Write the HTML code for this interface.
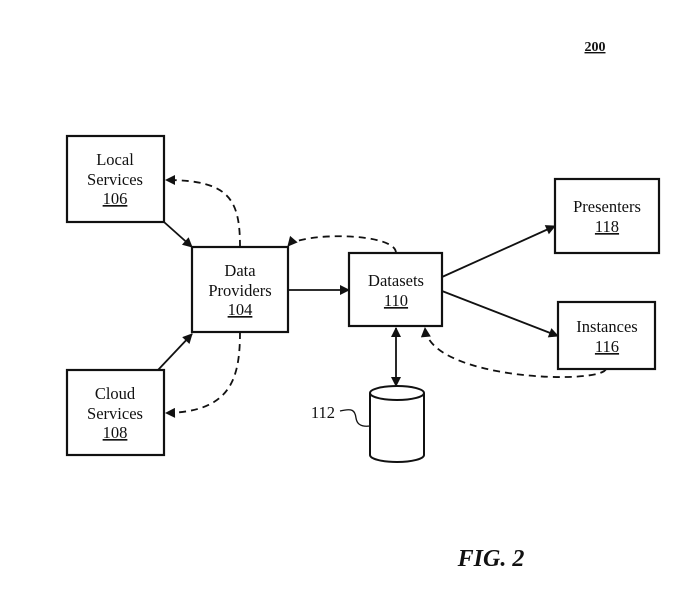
<!DOCTYPE html>
<html><head><meta charset="utf-8"><style>
html,body{margin:0;padding:0;background:#fff;}
svg{display:block;}
text{font-family:"Liberation Serif",serif;fill:#111;}
</style></head><body>
<svg width="700" height="596" viewBox="0 0 700 596" xmlns="http://www.w3.org/2000/svg">
<defs>
<marker id="a" viewBox="0 0 10 10" refX="9" refY="5" markerWidth="11" markerHeight="10" orient="auto-start-reverse" markerUnits="userSpaceOnUse">
<path d="M0,0 L10,5 L0,10 z" fill="#111"/></marker>
</defs>
<g fill="none" stroke="#111" stroke-width="2.2">
<rect x="67" y="136" width="97" height="86"/>
<rect x="192" y="247" width="96" height="85"/>
<rect x="67" y="370" width="97" height="85"/>
<rect x="349" y="253" width="93" height="73"/>
<rect x="555" y="179" width="104" height="74"/>
<rect x="558" y="302" width="97" height="67"/>
</g>
<g fill="none" stroke="#111" stroke-width="1.8">
<line x1="164" y1="222" x2="192" y2="247" marker-end="url(#a)"/>
<line x1="158" y1="370" x2="192" y2="334" marker-end="url(#a)"/>
<line x1="288" y1="290" x2="349" y2="290" marker-end="url(#a)"/>
<line x1="442" y1="277" x2="555" y2="226" marker-end="url(#a)"/>
<line x1="442" y1="291" x2="558" y2="336" marker-end="url(#a)"/>
<line x1="396" y1="328" x2="396" y2="386" marker-start="url(#a)" marker-end="url(#a)"/>
</g>
<g fill="none" stroke="#111" stroke-width="1.8" stroke-dasharray="7,5">
<path d="M240,247 C240,200 230,180 166,180" marker-end="url(#a)"/>
<path d="M240,332 C240,380 230,412 166,413" marker-end="url(#a)"/>
<path d="M396,253 C396,232 300,232 288,246" marker-end="url(#a)"/>
<path d="M606,369 C600,385 430,380 425,328" marker-end="url(#a)"/>
</g>
<g fill="#fff" stroke="#111" stroke-width="2">
<path d="M370,393 L370,455 A27,7 0 0 0 424,455 L424,393"/>
<ellipse cx="397" cy="393" rx="27" ry="7"/>
</g>
<path d="M340,411 C352,408 355,410 356,418 C357,425 362,427 370,426" fill="none" stroke="#111" stroke-width="1.3"/>
<g font-size="16.5" text-anchor="middle">
<text x="115" y="165">Local</text>
<text x="115" y="185">Services</text>
<text x="115" y="204" text-decoration="underline">106</text>
<text x="240" y="276">Data</text>
<text x="240" y="296">Providers</text>
<text x="240" y="315" text-decoration="underline">104</text>
<text x="115" y="399">Cloud</text>
<text x="115" y="419">Services</text>
<text x="115" y="438" text-decoration="underline">108</text>
<text x="396" y="286">Datasets</text>
<text x="396" y="306" text-decoration="underline">110</text>
<text x="607" y="212">Presenters</text>
<text x="607" y="232" text-decoration="underline">118</text>
<text x="607" y="332">Instances</text>
<text x="607" y="352" text-decoration="underline">116</text>
<text x="323" y="418">112</text>
</g>
<text x="595" y="51" font-size="14" font-weight="bold" text-anchor="middle" text-decoration="underline">200</text>
<text x="491" y="566" font-size="24" font-weight="bold" font-style="italic" text-anchor="middle">FIG. 2</text>
</svg>
</body></html>
